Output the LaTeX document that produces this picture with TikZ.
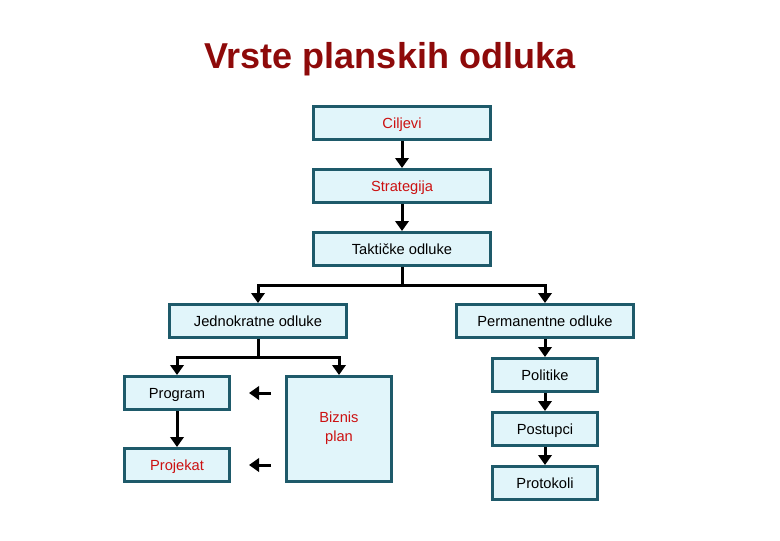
\documentclass[tikz,border=0pt]{standalone}
\usepackage{fontspec}
\setmainfont{Liberation Sans}
\usepackage{xcolor}
\usepackage{tikz}
\usetikzlibrary{arrows.meta, positioning, calc}

\definecolor{okvir}{HTML}{1E5A6A}
\definecolor{ispuna}{HTML}{E1F5FA}
\definecolor{crvena}{HTML}{CC1111}
\definecolor{naslovna}{HTML}{8E0A0A}

\begin{document}
\begin{tikzpicture}[
        x=0.75pt, y=-0.75pt,
        base/.style={
            draw=okvir, fill=ispuna, line width=2.25pt, align=center,
            font=\fontsize{11}{14}\selectfont, inner sep=2pt,
            text height=7.5pt, text depth=0pt
        },
        wide/.style={base, minimum width=132.75pt, minimum height=24.75pt},
        narrow/.style={base, minimum width=78.75pt, minimum height=24.75pt},
        tall/.style={base, minimum width=78.75pt, minimum height=78.75pt},
        red text/.style={text=crvena},
        line/.style={line width=2.25pt},
        arrow/.style={line, -{Triangle[width=10pt, length=7.5pt]}},
        title/.style={font=\fontsize{27}{32}\selectfont\bfseries, text=naslovna}
    ]
        \useasboundingbox (0,0) rectangle (780,540);

        % Naslov
        \node[title] (naslov) at (390,59) {Vrste planskih odluka};

        % Glavni lanac
        \node[wide, red text] (ciljevi) at (402,123) {Ciljevi};
        \node[wide, red text, below=20.25pt of ciljevi] (strategija) {Strategija};
        \node[wide, below=20.25pt of strategija] (takticke) {Taktičke odluke};

        % Dvije grane
        \node[wide] (jednokratne) at (258,321) {Jednokratne odluke};
        \node[wide] (permanentne) at (545,321) {Permanentne odluke};

        % Jednokratne odluke
        \node[narrow] (program) at (177,393) {Program};
        \node[narrow, red text, below=27pt of program] (projekat) {Projekat};
        \node[tall, red text, text height=18pt] (biznis) at (339,429) {Biznis\\plan};

        % Permanentne odluke
        \node[narrow, below=13.5pt of permanentne] (politike) {Politike};
        \node[narrow, below=13.5pt of politike] (postupci) {Postupci};
        \node[narrow, below=13.5pt of postupci] (protokoli) {Protokoli};

        % Točke grananja
        \coordinate (grana1) at ($(takticke.south)+(0,18)$);
        \coordinate (grana2) at ($(jednokratne.south)+(0,18)$);

        % Slobodne strelice
        \coordinate (s1a) at (271,393);
        \coordinate (s1b) at (249,393);
        \coordinate (s2a) at (271,465);
        \coordinate (s2b) at (249,465);

        % Strelice
        \draw[arrow] (ciljevi) -- (strategija);
        \draw[arrow] (strategija) -- (takticke);
        \draw[line] (takticke.south) -- (grana1);
        \draw[arrow] (grana1) -| (jednokratne.north);
        \draw[arrow] (grana1) -| (permanentne.north);
        \draw[line] (jednokratne.south) -- (grana2);
        \draw[arrow] (grana2) -| (program.north);
        \draw[arrow] (grana2) -| (biznis.north);
        \draw[arrow] (program) -- (projekat);
        \draw[arrow] (permanentne) -- (politike);
        \draw[arrow] (politike) -- (postupci);
        \draw[arrow] (postupci) -- (protokoli);
        \draw[arrow] (s1a) -- (s1b);
        \draw[arrow] (s2a) -- (s2b);

    \end{tikzpicture}
\end{document}
